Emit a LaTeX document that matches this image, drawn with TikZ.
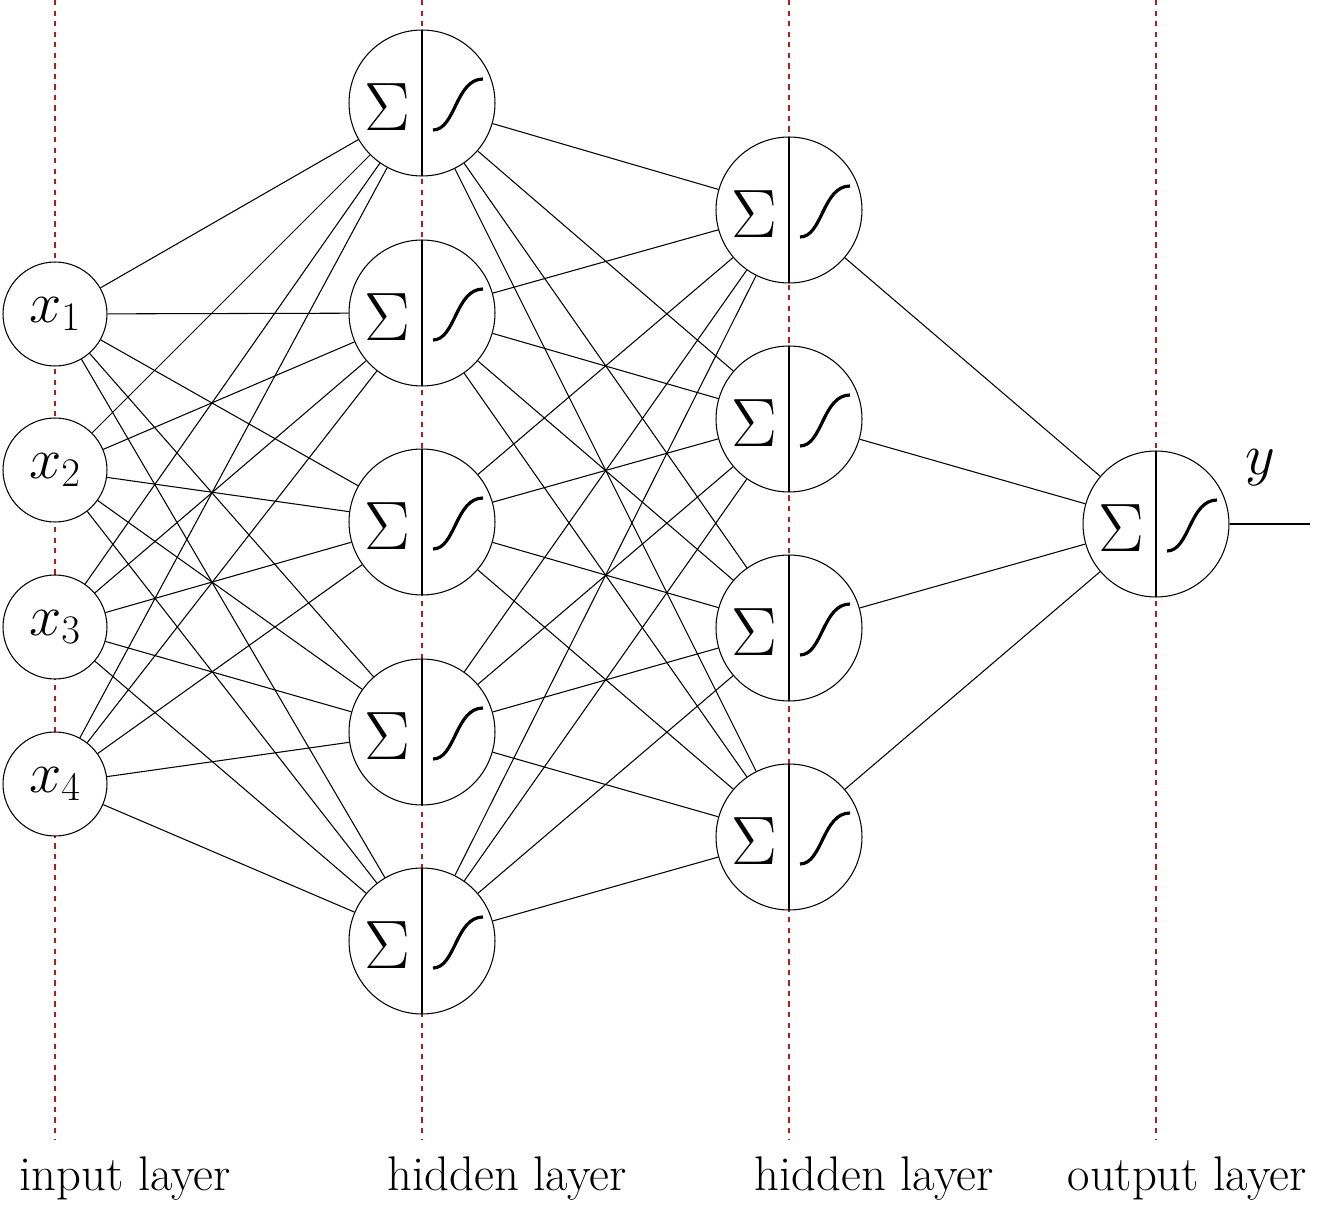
\documentclass[tikz,border=0pt]{standalone}
\usepackage{fix-cm}
\usepackage{fontspec}
\tikzset{
  edge/.style={line width=0.6pt},
  inp/.style={circle,draw,fill=white,line width=0.6pt,minimum size=2.08cm,inner sep=0pt,font=\fontsize{33}{36}\selectfont},
  neur/.style={circle,draw,fill=white,line width=0.6pt,minimum size=2.92cm,inner sep=0pt,
    path picture={
      \draw[line width=0.6pt] ([yshift=1.5cm]path picture bounding box.center) -- ([yshift=-1.5cm]path picture bounding box.center);
      \draw[line width=1.8pt] ([xshift=0.22cm,yshift=-0.54cm]path picture bounding box.center)
        .. controls +(0.45cm,0) and +(-0.55cm,0) .. ([xshift=1.22cm,yshift=0.48cm]path picture bounding box.center);
      \node[font=\fontsize{39}{42}\selectfont] at ([xshift=-0.7cm,yshift=-0.08cm]path picture bounding box.center) {$\Sigma$};
    }},
  lab/.style={font=\fontsize{27.7}{32}\selectfont,anchor=base},
  guide/.style={dashed,draw={rgb,255:red,170;green,30;blue,30},line width=0.6pt}}
\begin{document}
\begin{tikzpicture}[x=0.02cm,y=-0.02cm]
\useasboundingbox (0,0) rectangle (1330,1206);
\foreach \x in {55,422,789,1156} \draw[guide] (\x,0) -- (\x,1140);
\node[inp] (i1) at (55,314) {$x_1$};
\node[inp] (i2) at (55,470) {$x_2$};
\node[inp] (i3) at (55,627) {$x_3$};
\node[inp] (i4) at (55,784) {$x_4$};
\foreach \n/\y in {1/103,2/313,3/522,4/732,5/941} \node[neur] (h\n) at (422,\y) {};
\foreach \n/\y in {1/210,2/419,3/628,4/837} \node[neur] (g\n) at (789,\y) {};
\node[neur] (o) at (1156,524) {};
\foreach \i in {1,...,4} \foreach \j in {1,...,5} \draw[edge] (i\i) -- (h\j);
\foreach \i in {1,...,5} \foreach \j in {1,...,4} \draw[edge] (h\i) -- (g\j);
\foreach \i in {1,...,4} \draw[edge] (g\i) -- (o);
\coordinate (out) at (1310,524);
\draw[edge] (o) -- (out);
\node[font=\fontsize{33}{36}\selectfont] (y) at (1260,468) {$y$};
\node[lab] (l1) at (125,1190) {input layer};
\node[lab] (l2) at (507,1190) {hidden layer};
\node[lab] (l3) at (874,1190) {hidden layer};
\node[lab] (l4) at (1187,1190) {output layer};
\end{tikzpicture}
\end{document}
